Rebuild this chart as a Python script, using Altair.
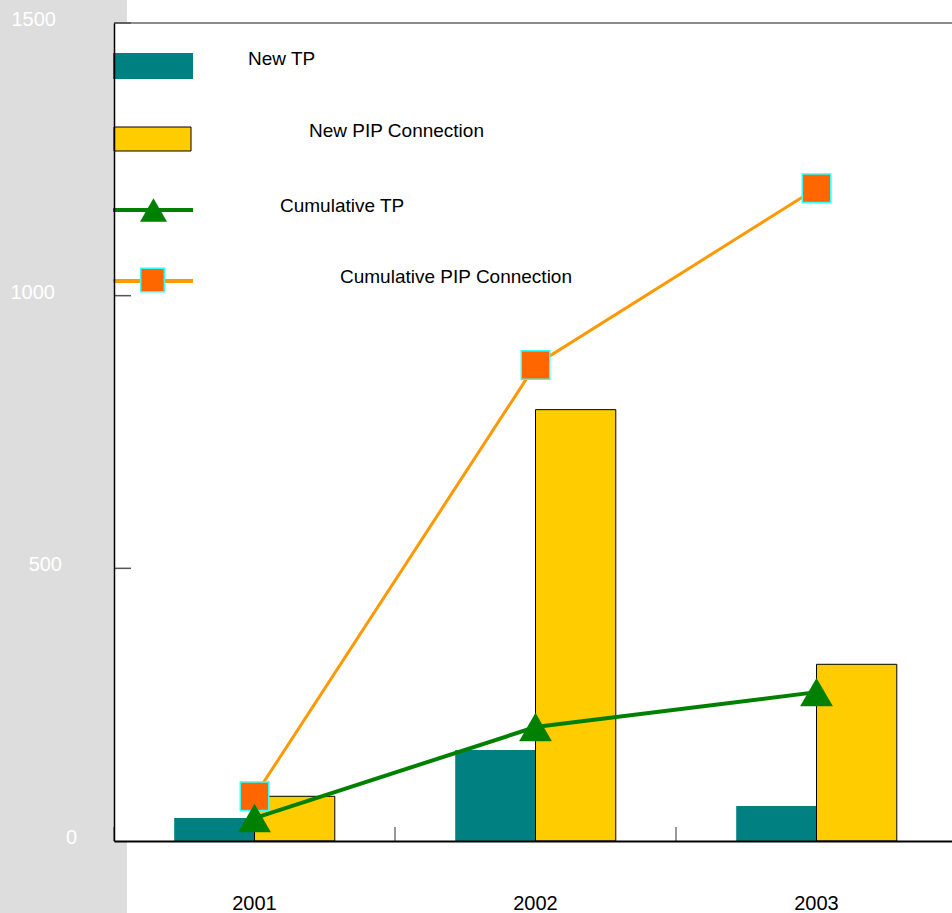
import altair as alt
import pandas as pd

# ---- data -------------------------------------------------------------
years = ["2001", "2002", "2003"]
new_tp = [42, 167, 64]
new_pip = [82, 791, 324]
cum_tp = [42, 209, 273]
cum_pip = [82, 873, 1197]
y_ticks = [0, 500, 1000, 1500]
series_names = ["New TP", "New PIP Connection", "Cumulative TP", "Cumulative PIP Connection"]

# ---- layout / style ----------------------------------------------------
W, H = 838, 818
X_RANGE = 843          # category bands run slightly past the right edge
FONT = "Liberation Sans"
TEAL, GOLD = "#008080", "#FFCC00"
GREEN, ORANGE, SQ_FILL, SQ_EDGE = "#008000", "#FF9900", "#FF6600", "#33FFFF"
STRIP = "#DDDDDD"

# right edge of each y label (px, relative to plot left)
y_label_right = [-37, -52, -59, -58]
# legend text anchors (px, relative to plot origin)
legend_text_pos = [(134, 42), (195, 114), (166, 189), (226, 260)]

one = pd.DataFrame({"k": [0]})

bars_df = pd.DataFrame({
    "year": years * 2,
    "series": [series_names[0]] * 3 + [series_names[1]] * 3,
    "value": new_tp + new_pip,
})
cum_df = pd.DataFrame({"year": years, "tp": cum_tp, "pip": cum_pip})
ytick_df = pd.DataFrame({"v": y_ticks})

x_scale = alt.Scale(domain=years, paddingInner=0, paddingOuter=0, range=[0, X_RANGE])
y_scale = alt.Scale(domain=[0, 1500], nice=False, zero=True)


def X(field="year:N", **kw):
    return alt.X(field, scale=x_scale, title=None, **kw)


def Y(field):
    return alt.Y(field, scale=y_scale, title=None)


# background: grey strip on the left, white plotting area
strip = alt.Chart(one).mark_rect(color=STRIP).encode(
    x=alt.value(-114), x2=alt.value(13), y=alt.value(-23), y2=alt.value(H + 72)
)
plot_bg = alt.Chart(one).mark_rect(color="white").encode(
    x=alt.value(0), x2=alt.value(W), y=alt.value(0), y2=alt.value(H)
)
top_frame = alt.Chart(one).mark_rule(color="#666666", strokeWidth=1.5).encode(
    x=alt.value(0), x2=alt.value(W), y=alt.value(0)
)

# grouped bars
bars = alt.Chart(bars_df).mark_bar(stroke="black").encode(
    x=X(axis=alt.Axis(
        labelAngle=0, labelFont=FONT, labelFontSize=20, labelColor="black",
        ticks=False, tickSize=0, labelPadding=52, domainColor="black",
        domainWidth=2, zindex=1, grid=False,
    )),
    xOffset=alt.XOffset(
        "series:N",
        scale=alt.Scale(domain=series_names[:2], paddingInner=0, paddingOuter=0.75),
    ),
    y=alt.Y("value:Q", scale=y_scale, title=None, axis=alt.Axis(
        labels=False, ticks=False, grid=False, domainColor="black",
        domainWidth=1.5, zindex=1,
    )),
    color=alt.Color("series:N", scale=alt.Scale(domain=series_names[:2], range=[TEAL, GOLD]), legend=None),
    strokeWidth=alt.condition(alt.datum.series == series_names[1], alt.value(1), alt.value(0)),
)

# tick marks drawn inside the plot
x_ticks = alt.Chart(pd.DataFrame({"year": years})).mark_rule(color="#333333", strokeWidth=1).encode(
    x=X(bandPosition=0), y=alt.value(H), y2=alt.value(H - 14)
)
y_tick_marks = alt.Chart(ytick_df[ytick_df.v > 0]).mark_rule(color="#555555", strokeWidth=1.5).encode(
    y=Y("v:Q"), x=alt.value(0), x2=alt.value(17)
)

# cumulative lines with markers
pip_line = alt.Chart(cum_df).mark_line(color=ORANGE, strokeWidth=3).encode(x=X(), y=Y("pip:Q"))
tp_line = alt.Chart(cum_df).mark_line(color=GREEN, strokeWidth=4).encode(x=X(), y=Y("tp:Q"))
pip_pts = alt.Chart(cum_df).mark_point(
    shape="square", filled=True, fill=SQ_FILL, stroke=SQ_EDGE, strokeWidth=1.5, size=810, opacity=1
).encode(x=X(), y=Y("pip:Q"))
tp_pts = alt.Chart(cum_df).mark_point(
    shape="triangle-up", filled=True, color=GREEN, size=1080, opacity=1
).encode(x=X(), y=Y("tp:Q"))

# y-axis labels (white on the grey strip)
y_labels = [
    alt.Chart(pd.DataFrame({"v": [v], "t": [str(v)]})).mark_text(
        align="right", baseline="middle", font=FONT, fontSize=20, color="white", dy=-3
    ).encode(y=Y("v:Q"), x=alt.value(xr), text="t:N")
    for v, xr in zip(y_ticks, y_label_right)
]

# legend
legend = [
    alt.Chart(one).mark_rect(color=TEAL).encode(
        x=alt.value(-1), x2=alt.value(79), y=alt.value(30), y2=alt.value(56)),
    alt.Chart(one).mark_rect(color=GOLD, stroke="black", strokeWidth=1).encode(
        x=alt.value(0), x2=alt.value(77), y=alt.value(104), y2=alt.value(128)),
    alt.Chart(one).mark_rule(color=GREEN, strokeWidth=4).encode(
        x=alt.value(-1), x2=alt.value(79), y=alt.value(187)),
    alt.Chart(one).mark_point(shape="triangle-up", filled=True, color=GREEN, size=730, opacity=1).encode(
        x=alt.value(39.5), y=alt.value(187)),
    alt.Chart(one).mark_rule(color=ORANGE, strokeWidth=4).encode(
        x=alt.value(-1), x2=alt.value(79), y=alt.value(258)),
    alt.Chart(one).mark_point(
        shape="square", filled=True, fill=SQ_FILL, stroke=SQ_EDGE, strokeWidth=1.5, size=560, opacity=1
    ).encode(x=alt.value(38.5), y=alt.value(257)),
]
legend += [
    alt.Chart(pd.DataFrame({"t": [name]})).mark_text(
        align="left", baseline="alphabetic", font=FONT, fontSize=19, color="black"
    ).encode(x=alt.value(px), y=alt.value(py), text="t:N")
    for name, (px, py) in zip(series_names, legend_text_pos)
]

chart = alt.layer(
    strip, plot_bg, top_frame, bars, x_ticks, y_tick_marks,
    pip_line, tp_line, pip_pts, tp_pts, *y_labels, *legend,
).properties(
    width=W, height=H,
    padding={"left": 114, "top": 23, "right": 0, "bottom": 72},
    autosize=alt.AutoSizeParams(type="none"),
    background="white",
).configure_view(strokeWidth=0)

chart.save("out.html", embed_options={"renderer": "svg", "actions": False})
